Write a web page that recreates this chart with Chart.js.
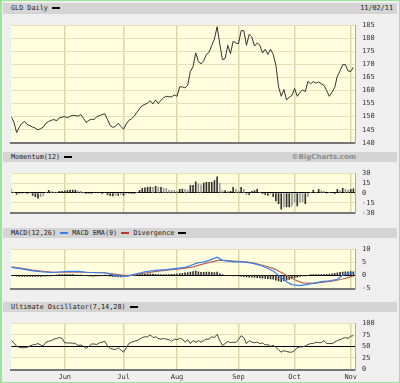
<!DOCTYPE html>
<html>
<head>
<meta charset="utf-8">
<script src="https://cdn.jsdelivr.net/npm/chart.js@4/dist/chart.umd.min.js"></script>
<style>
body { margin: 0; width: 400px; height: 383px; background: #efefef; overflow: hidden; position: relative; }
#frame { position: absolute; left: 0; top: 0; width: 397px; height: 381px; border: 1px solid #9be59b; border-left-width: 2px; }
.bar { position: absolute; left: 3px; width: 394px; height: 10px; background: #d4d4d4; color: #222;
  font-family: 'DejaVu Sans Mono', monospace; font-size: 6.8px; line-height: 10px; white-space: pre; }
.bar .t { position: absolute; left: 8px; top: 0; }
.bar .r { position: absolute; right: 4px; top: 0; }
.bar .copy { position: absolute; right: 41px; top: 0; font-family: 'DejaVu Sans', sans-serif; font-weight: bold; color: #8c8c8c; font-size: 7px; }
.mk { display: inline-block; width: 8px; height: 2px; vertical-align: middle; margin-top: -1px; }
canvas { position: absolute; left: 0; }
</style>
</head>
<body>
<div id="frame"></div>
<div class="bar" style="top:3px;height:11px;line-height:11px"><span class="t">GLD Daily <i class="mk" style="background:#000"></i></span><span class="r">11/02/11</span></div>
<div class="bar" style="top:152px"><span class="t">Momentum(12) <i class="mk" style="background:#000"></i></span><span class="copy">©BigCharts.com</span></div>
<div class="bar" style="top:228px"><span class="t">MACD(12,26) <i class="mk" style="background:#3a7cf0"></i> MACD EMA(9) <i class="mk" style="background:#b83a30"></i> Divergence <i class="mk" style="background:#000"></i></span></div>
<div class="bar" style="top:302px"><span class="t">Ultimate Oscillator(7,14,28) <i class="mk" style="background:#000"></i></span></div>

<canvas id="priceChart" width="400" height="140" style="top:14px"></canvas>
<canvas id="momChart" width="400" height="62" style="top:162px"></canvas>
<canvas id="macdChart" width="400" height="62" style="top:238px"></canvas>
<canvas id="uoChart" width="400" height="71" style="top:312px"></canvas>

<script>
// trading days from May 3 2011 (index 0) to Nov 2 2011 (index 128)
const monthTicks = [20, 42, 62, 85, 106, 127];
const monthNames = ['Jun', 'Jul', 'Aug', 'Sep', 'Oct', 'Nov'];

const price = [
  150, 147.8, 143.9, 146, 147.5, 148.2, 146.9, 146.6, 146, 145.6,
  145, 145.4, 146, 147.5, 148.2, 148.6, 148.9, 148.4, 149.6, 149.8,
  150, 149.6, 150.2, 150.5, 150.4, 150.2, 150.8, 149.4, 147.8, 148.6,
  149, 148.9, 150, 150.4, 150.8, 151.1, 148.9, 146.6, 145.9, 146.3,
  147.5, 146.3, 145.2, 147.2, 148.6, 149.2, 150.2, 151.7, 153.1, 154.2,
  154.7, 155.2, 156.1, 154.9, 156.4, 155, 156.3, 157.3, 157.8, 157.6,
  157.6, 158.3, 157.8, 161.4, 161.4, 161, 162, 167.3, 169.1, 174.4,
  171.1, 170.2, 171.4, 173.8, 174.6, 177.3, 179.7, 184.4, 177.9, 171.8,
  172.2, 177.3, 174.1, 178.9, 178.2, 177.9, 182.9, 182.9, 177.3, 181.5,
  180.5, 177, 178.2, 177.3, 174.4, 175.8, 173.8, 175.8, 173.8, 169.7,
  161.4, 157.8, 160.4, 156.4, 157.5, 158.1, 160.8, 157.8, 159.3, 160.2,
  159.6, 163.5, 162.6, 163.4, 162.8, 163.3, 162.6, 162, 160, 157.8,
  159.3, 161.2, 165.5, 167.5, 169.9, 169.9, 167.5, 167.3, 168.9
];

const momentum = [
  6, 1.5, -2, -1.5, -0.5, 0, -0.5, 0, -3.5, -5.5,
  -8, -5.5, -4, 0.5, 4, 2.5, 1.5, 0.5, 2.5, 2.5,
  3, 3.5, 4.5, 4.5, 4.5, 3, 2.5, 0.5, -1, -0.5,
  -0.5, 0.5, 0.5, 0.5, -0.5, 0.5, -2.5, -4, -4.5, -3.5,
  -3.5, -2.5, -3.5, -1.5, -1, -1, -1, 0.5, 4, 7,
  8, 8.5, 9, 8.5, 10, 8.5, 8.5, 7.5, 7, 4.5,
  4, 3.5, 2.5, 5.5, 6, 5.5, 4.5, 11.5, 11.5, 17,
  14, 12.5, 15, 16, 16, 16, 19, 24.5, 15, 3.5,
  3.5, 2.5, 2.5, 8.5, 6, 3, 8.5, 5.5, -2.5, -2.5,
  2.5, 3.5, 5.5, 0.5, -0.5, -2.5, -3.5, -1.5, -5.5, -12,
  -16, -24.5, -21, -21, -21, -19.5, -14, -19.5, -14, -13,
  -16, -5.5, 0.5, 4.5, 1, 5.5, 3.5, 2.5, -1, 0.5,
  0.5, -0.5, 5.5, 3.5, 7, 6, 4.5, 5.5, 6.5
];

const macdDays = [0, 4, 8, 12, 15, 18, 21, 25, 28, 32, 35, 38, 41, 43, 46, 50, 54, 58, 62, 65, 67, 70, 72, 74, 77, 79, 83, 87, 90, 94, 98, 100, 103, 105, 108, 112, 116, 119, 122, 124, 126, 128];
const macdLine = [3.0, 2.4, 1.6, 1.2, 1.0, 1.2, 1.4, 1.4, 1.1, 0.9, 0.9, 0.1, -0.4, -0.5, 0.3, 1.3, 1.8, 2.1, 2.6, 3.0, 3.7, 4.8, 5.0, 5.7, 6.9, 5.7, 5.1, 5.1, 4.6, 3.5, 1.6, -0.1, -2.7, -3.7, -4.1, -3.4, -2.5, -2.2, -1.6, 0, 0.6, 1.0];
const emaDays = [0, 4, 8, 12, 16, 20, 25, 30, 35, 38, 42, 46, 50, 55, 60, 64, 68, 72, 75, 78, 82, 87, 90, 94, 98, 102, 106, 109, 113, 117, 120, 124, 126, 128];
const emaLine = [3.2, 2.6, 1.9, 1.4, 1.1, 1.1, 1.2, 1.0, 0.9, 0.5, -0.1, 0, 0.8, 1.5, 2.1, 2.5, 3.2, 4.3, 5.1, 5.8, 5.5, 5.1, 4.8, 3.8, 2.6, 0.5, -1.8, -3.0, -3.2, -2.7, -2.3, -1.5, -1.0, -0.3];

const divergence = [
  -0.1, -0.2, -0.4, -0.5, -0.5, -0.5, -0.5, -0.5, -0.5, -0.5,
  -0.5, -0.5, -0.4, -0.4, -0.3, -0.3, -0.1, 0, 0.1, 0.1,
  0.1, 0.1, 0.1, 0.1, 0, 0, 0, -0.1, -0.2, -0.3,
  -0.4, -0.4, -0.3, -0.3, -0.1, 0, -0.2, -0.4, -0.5, -0.6,
  -0.7, -0.7, -0.6, -0.5, -0.3, -0.1, 0.2, 0.4, 0.5, 0.5,
  0.5, 0.5, 0.5, 0.4, 0.3, 0.2, 0.2, 0.1, 0.1, 0.2,
  0.3, 0.3, 0.4, 0.6, 0.7, 0.9, 1.0, 1.2, 1.4, 1.5,
  1.3, 1.1, 1.1, 1.2, 1.2, 1.1, 1.0, 1.2, 0.6, 0.1,
  -0.1, -0.2, -0.2, -0.3, -0.2, -0.3, -0.5, -0.6, -0.7, -0.8,
  -0.8, -0.9, -1.0, -1.1, -1.2, -1.3, -1.4, -1.5, -1.6, -2.0,
  -2.3, -2.5, -2.2, -2.0, -1.7, -1.4, -1.1, -0.8, -0.5, -0.3,
  -0.3, -0.2, 0.1, 0.2, 0.2, 0.2, 0.2, 0.3, 0.3, 0.4,
  0.5, 0.7, 0.9, 1.1, 1.2, 1.3, 1.3, 1.4, 1.3
];

const ultimate = [
  62.5, 58, 50, 48, 47, 47, 48, 51, 53, 54,
  56, 53, 51, 59, 61, 62.5, 65.6, 67, 69, 67,
  57.5, 57.5, 57, 57, 56, 52, 53, 50, 45.6, 50,
  55, 55, 54, 57.5, 59, 61, 51, 45.6, 44, 43,
  47, 42, 37.5, 47, 56, 59, 61, 62.5, 65.6, 69,
  70.6, 70.6, 75, 69, 70.6, 67, 65.6, 67, 65.6, 64.4,
  60.6, 65.6, 64.4, 67, 65.6, 59, 64.4, 56, 62.5, 59,
  62.5, 59, 62.5, 65.6, 65.6, 70.6, 69, 76, 62.5, 52,
  56, 60.6, 58, 59, 58, 64.4, 73, 69, 56, 62.5,
  59, 58, 59, 56, 57.5, 53, 54, 50, 52, 48,
  42, 37.5, 40.6, 39, 37.5, 37.5, 40.6, 47, 48.8, 48.8,
  51, 54, 56, 56, 59, 58, 58, 62.5, 56, 56,
  56, 59, 62.5, 64.4, 67, 69, 67, 72, 73
];

const GRID = '#e2e2b6';
const GRID_V = '#d9d9a8';
const tickFont = { family: 'DejaVu Sans Mono', size: 7 };

const toPts = (xs, ys) => ys.map((v, i) => ({ x: xs[i], y: v }));
const byDay = ys => ys.map((v, i) => ({ x: i, y: v }));

const plotBg = {
  id: 'plotBg',
  beforeDraw(chart) {
    const a = chart.chartArea, ctx = chart.ctx;
    ctx.save();
    ctx.fillStyle = '#ffffe0';
    ctx.fillRect(a.left, a.top, a.right - a.left, a.bottom - a.top);
    ctx.restore();
  }
};

function xAxis(showLabels) {
  return {
    type: 'linear', min: 0, max: 128.6, offset: false,
    afterBuildTicks: s => { s.ticks = monthTicks.map(v => ({ value: v })); },
    afterFit: s => { s.height = showLabels ? 12 : 0; },
    grid: { drawTicks: false, offset: false, color: GRID_V, lineWidth: 1.5 },
    border: { color: '#777', width: 2 },
    ticks: {
      display: showLabels, padding: 3, maxRotation: 0, autoSkip: false,
      color: '#333', font: tickFont,
      callback: v => monthNames[monthTicks.indexOf(v)]
    }
  };
}

function yAxis(min, max, ticks, darkAt) {
  return {
    position: 'right', min: min, max: max,
    afterBuildTicks: s => { s.ticks = ticks.map(v => ({ value: v })); },
    afterFit: s => { s.width = 45; },
    grid: {
      drawTicks: false, lineWidth: 1,
      color: c => (c.tick && c.tick.value === darkAt) ? '#000' : GRID
    },
    border: { color: '#aaa', width: 1 },
    ticks: { padding: 7, color: '#333', font: tickFont, callback: v => String(v) }
  };
}

function makeChart(id, datasets, y, showX, pad) {
  return new Chart(document.getElementById(id), {
    type: 'line',
    data: { datasets: datasets },
    options: {
      responsive: false,
      animation: false,
      layout: { padding: pad },
      plugins: { legend: { display: false }, tooltip: { enabled: false } },
      elements: { point: { radius: 0 }, line: { tension: 0 } },
      scales: { x: xAxis(showX), y: y }
    },
    plugins: [plotBg]
  });
}

makeChart('priceChart', [
  { data: byDay(price), borderColor: '#333', borderWidth: 1 }
], yAxis(140, 185, [140, 145, 150, 155, 160, 165, 170, 175, 180, 185], null), false,
  { left: 11.3, right: 0, top: 4.3, bottom: 9 });

const momColors = momentum.map((v, i) =>
  i > 0 && Math.abs(v) >= Math.abs(momentum[i - 1]) ? '#333' : '#9a9a9a');

makeChart('momChart', [
  { type: 'bar', data: byDay(momentum), backgroundColor: momColors, barThickness: 1 }
], yAxis(-30, 30, [-30, -15, 0, 15, 30], 0), false,
  { left: 11.3, right: 0, top: 4.5, bottom: 4 });

makeChart('macdChart', [
  { data: toPts(macdDays, macdLine), borderColor: '#3a7cf0', borderWidth: 1.2 },
  { data: toPts(emaDays, emaLine), borderColor: '#b8675a', borderWidth: 1.2 },
  { type: 'bar', data: byDay(divergence), backgroundColor: '#333', barThickness: 1 }
], yAxis(-5.3, 10, [-5, 0, 5, 10], 0), false,
  { left: 11.3, right: 0, top: 3.7, bottom: 5 });

makeChart('uoChart', [
  { data: byDay(ultimate), borderColor: '#444', borderWidth: 1 }
], yAxis(0, 100, [0, 25, 50, 75, 100], 50), true,
  { left: 11.3, right: 0, top: 4.7, bottom: 1.5 });
</script>
</body>
</html>
